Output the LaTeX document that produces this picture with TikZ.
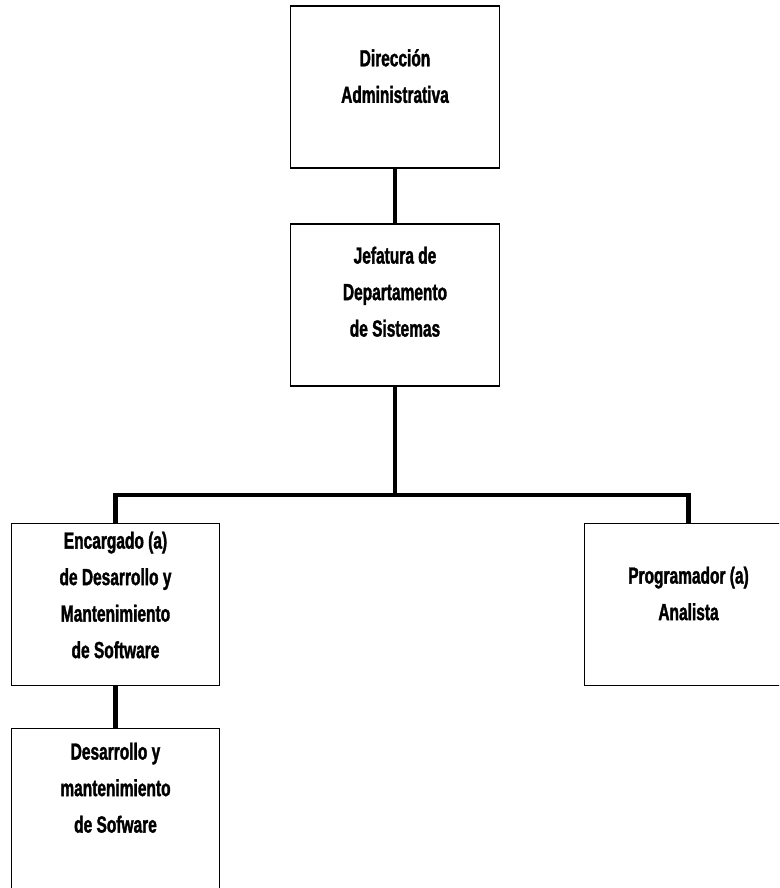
\documentclass[tikz,border=0pt]{standalone}
\usepackage{fontspec}
\setmainfont{Liberation Sans}[FakeStretch=0.665,BoldFeatures={FakeBold=1.5}]
\begin{document}
\begin{tikzpicture}[x=1pt,y=-1pt,
  box/.style={draw,line width=1.3pt,minimum width=208.5pt,minimum height=162pt,inner sep=0pt},
  txt/.style={align=center,anchor=north,inner sep=0pt,
    font=\fontsize{23.3}{36.5}\selectfont\bfseries},
  conn/.style={line width=4.3pt,line join=miter}]
\useasboundingbox (0,0) rectangle (779,888);
\clip (0,0) rectangle (779,888);

% boxes
\node[box] (dir) at (395,87) {};
\node[box] (jef) at (395,305) {};
\node[box] (enc) at (115.5,604.5) {};
\node[box] (prog) at (688.5,604.5) {};
\node[box] (des) at (115.5,809.5) {};

% titles
\node[txt] (dirt) at (395,49) {Dirección\\Administrativa};
\node[txt] (jeft) at (395,246.5) {Jefatura de\\Departamento\\de Sistemas};
\node[txt] (enct) at (115.5,531.5) {Encargado (a)\\de Desarrollo y\\Mantenimiento\\de Software};
\node[txt] (progt) at (688.5,566.5) {Programador (a)\\Analista};
\node[txt] (dest) at (115.5,742.5) {Desarrollo y\\mantenimiento\\de Sofware};

% connectors
\coordinate (bus) at (395,495);
\draw[conn] (dir.south) -- (jef.north);
\draw[conn] (jef.south) -- (bus);
\draw[conn] (enc.north) |- (bus) -| (prog.north);
\draw[conn] (enc.south) -- (des.north);
\end{tikzpicture}
\end{document}
